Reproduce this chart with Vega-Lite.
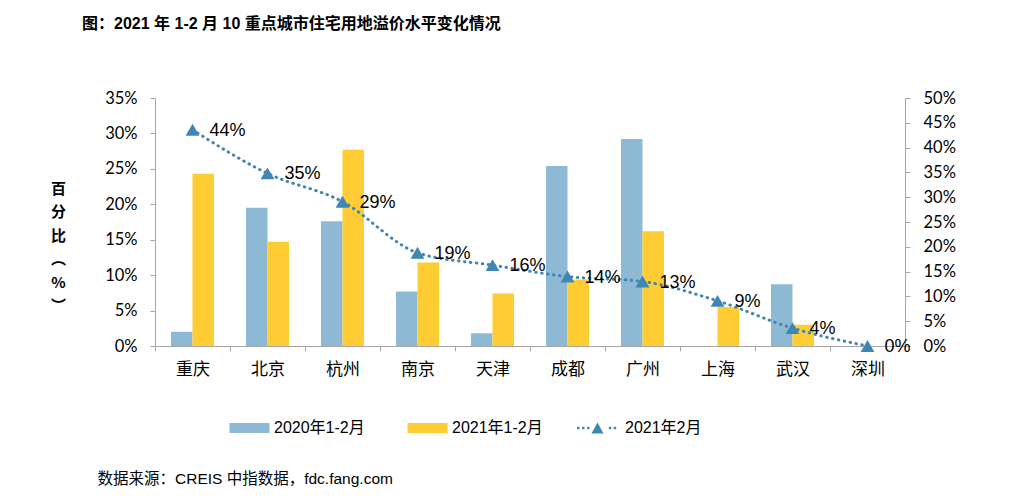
{
  "$schema": "https://vega.github.io/schema/vega-lite/v6.json",
  "width": 750,
  "height": 248,
  "autosize": {"type": "none"},
  "padding": {"left": 155, "top": 98, "right": 123, "bottom": 153},
  "background": "white",
  "config": {
    "view": {"stroke": null},
    "axis": {"grid": false, "domainColor": "#A6A6A6", "tickColor": "#A6A6A6", "labelColor": "black", "titleColor": "black"}
  },
  "title": {
    "text": "图：2021 年 1-2 月 10 重点城市住宅用地溢价水平变化情况",
    "anchor": "start",
    "frame": "group",
    "dx": -73,
    "offset": 45,
    "baseline": "alphabetic",
    "font": "Liberation Sans, Noto Sans CJK SC",
    "fontSize": 16,
    "fontWeight": "bold",
    "color": "black"
  },
  "datasets": {
    "bars": [
      {"city": "重庆", "series": "2020年1-2月", "value": 0.020},
      {"city": "重庆", "series": "2021年1-2月", "value": 0.243},
      {"city": "北京", "series": "2020年1-2月", "value": 0.195},
      {"city": "北京", "series": "2021年1-2月", "value": 0.147},
      {"city": "杭州", "series": "2020年1-2月", "value": 0.176},
      {"city": "杭州", "series": "2021年1-2月", "value": 0.277},
      {"city": "南京", "series": "2020年1-2月", "value": 0.077},
      {"city": "南京", "series": "2021年1-2月", "value": 0.118},
      {"city": "天津", "series": "2020年1-2月", "value": 0.018},
      {"city": "天津", "series": "2021年1-2月", "value": 0.074},
      {"city": "成都", "series": "2020年1-2月", "value": 0.254},
      {"city": "成都", "series": "2021年1-2月", "value": 0.094},
      {"city": "广州", "series": "2020年1-2月", "value": 0.292},
      {"city": "广州", "series": "2021年1-2月", "value": 0.162},
      {"city": "上海", "series": "2020年1-2月", "value": 0},
      {"city": "上海", "series": "2021年1-2月", "value": 0.055},
      {"city": "武汉", "series": "2020年1-2月", "value": 0.087},
      {"city": "武汉", "series": "2021年1-2月", "value": 0.030},
      {"city": "深圳", "series": "2020年1-2月", "value": 0},
      {"city": "深圳", "series": "2021年1-2月", "value": 0}
    ],
    "line": [
      {"city": "重庆", "series": "2021年2月", "value": 0.436},
      {"city": "北京", "series": "2021年2月", "value": 0.348},
      {"city": "杭州", "series": "2021年2月", "value": 0.291},
      {"city": "南京", "series": "2021年2月", "value": 0.188},
      {"city": "天津", "series": "2021年2月", "value": 0.163},
      {"city": "成都", "series": "2021年2月", "value": 0.140},
      {"city": "广州", "series": "2021年2月", "value": 0.130},
      {"city": "上海", "series": "2021年2月", "value": 0.091},
      {"city": "武汉", "series": "2021年2月", "value": 0.036},
      {"city": "深圳", "series": "2021年2月", "value": 0}
    ]
  },
  "encoding": {
    "x": {
      "field": "city",
      "type": "nominal",
      "sort": null,
      "scale": {"domain": ["重庆", "北京", "杭州", "南京", "天津", "成都", "广州", "上海", "武汉", "深圳"], "paddingInner": 0, "paddingOuter": 0},
      "axis": {
        "labelAngle": 0,
        "labelFont": "Noto Sans CJK SC",
        "labelFontSize": 17,
        "labelPadding": 10,
        "tickSize": 5,
        "tickBand": "extent",
        "title": "数据来源：CREIS 中指数据，fdc.fang.com",
        "titleFont": "Liberation Sans, Noto Sans CJK SC",
        "titleFontSize": 15.5,
        "titleFontWeight": "normal",
        "titleAlign": "left",
        "titleBaseline": "middle",
        "titleX": -58,
        "titleY": 132
      }
    }
  },
  "layer": [
    {
      "data": {"name": "bars"},
      "mark": {"type": "bar"},
      "encoding": {
        "xOffset": {"field": "series", "type": "nominal", "scale": {"paddingInner": 0, "paddingOuter": 0.744}},
        "y": {
          "field": "value",
          "type": "quantitative",
          "scale": {"domain": [0, 0.35], "nice": false},
          "axis": {
            "orient": "left",
            "values": [0, 0.05, 0.1, 0.15, 0.2, 0.25, 0.3, 0.35],
            "format": ".0%",
            "labelFont": "Lato",
            "labelFontSize": 16.5,
            "labelPadding": 13,
            "tickSize": 5,
            "title": ["百", "分", "比", "︵", "%", "︶"],
            "titleAngle": 0,
            "titleFont": "Noto Sans CJK SC",
            "titleFontSize": 15,
            "titleFontWeight": "bold",
            "titleLineHeight": 23.5,
            "titleAlign": "center",
            "titleBaseline": "top",
            "titleX": -97,
            "titleY": 83
          }
        },
        "color": {
          "field": "series",
          "type": "nominal",
          "scale": {"domain": ["2020年1-2月", "2021年1-2月"], "range": ["#8DB9D4", "#FFCC33"]},
          "legend": {
            "orient": "none",
            "direction": "horizontal",
            "legendX": 84.5,
            "legendY": 320,
            "padding": 0,
            "title": null,
            "symbolType": "M-2,-0.5H2V0.5H-2Z",
            "symbolSize": 400,
            "symbolStrokeWidth": 0,
            "labelOffset": 14.5,
            "columnPadding": 42,
            "labelFont": "Liberation Sans, Noto Sans CJK SC",
            "labelFontSize": 16,
            "labelColor": "black"
          }
        }
      }
    },
    {
      "data": {"name": "line"},
      "encoding": {
        "y": {
          "field": "value",
          "type": "quantitative",
          "scale": {"domain": [0, 0.5], "nice": false},
          "axis": {
            "orient": "right",
            "values": [0, 0.05, 0.1, 0.15, 0.2, 0.25, 0.3, 0.35, 0.4, 0.45, 0.5],
            "format": ".0%",
            "labelFont": "Lato",
            "labelFontSize": 16.5,
            "labelPadding": 13,
            "tickSize": 5,
            "title": null
          }
        }
      },
      "layer": [
        {
          "mark": {"type": "line", "color": "#4086B5", "strokeWidth": 3, "strokeCap": "round", "strokeDash": [0.5, 5.5], "interpolate": "monotone"}
        },
        {
          "mark": {"type": "point", "shape": "triangle-up", "size": 190, "filled": true, "opacity": 1},
          "encoding": {
            "color": {
              "field": "series",
              "type": "nominal",
              "scale": {"range": ["#4086B5"]},
              "legend": {
                "orient": "none",
                "direction": "horizontal",
                "legendX": 432.5,
                "legendY": 320,
                "padding": 0,
                "title": null,
                "symbolType": "M-2.04,-0.12h0.24v0.24h-0.24Z M-1.54,-0.12h0.24v0.24h-0.24Z M-1.04,-0.12h0.24v0.24h-0.24Z M1.13,-0.12h0.24v0.24h-0.24Z M1.63,-0.12h0.24v0.24h-0.24Z M0,-0.55L0.6,0.55L-0.6,0.55Z",
                "symbolSize": 400,
                "symbolStrokeWidth": 0,
                "symbolOpacity": 1,
                "labelOffset": 17.5,
                "labelFont": "Liberation Sans, Noto Sans CJK SC",
                "labelFontSize": 16,
                "labelColor": "black",
                "encode": {
                  "symbols": {
                    "update": {
                      "shape": {"value": "M-2.04,-0.12h0.24v0.24h-0.24Z M-1.54,-0.12h0.24v0.24h-0.24Z M-1.04,-0.12h0.24v0.24h-0.24Z M1.13,-0.12h0.24v0.24h-0.24Z M1.63,-0.12h0.24v0.24h-0.24Z M0,-0.55L0.6,0.55L-0.6,0.55Z"},
                      "size": {"value": 400},
                      "fill": {"value": "#4086B5"},
                      "opacity": {"value": 1},
                      "strokeWidth": {"value": 0}
                    }
                  }
                }
              }
            }
          }
        },
        {
          "mark": {"type": "text", "align": "left", "baseline": "middle", "dx": 17, "dy": 1, "font": "Liberation Sans", "fontSize": 18, "color": "black"},
          "encoding": {
            "text": {"field": "value", "type": "quantitative", "format": ".0%"}
          }
        }
      ]
    }
  ],
  "resolve": {"scale": {"y": "independent", "color": "independent"}}
}
